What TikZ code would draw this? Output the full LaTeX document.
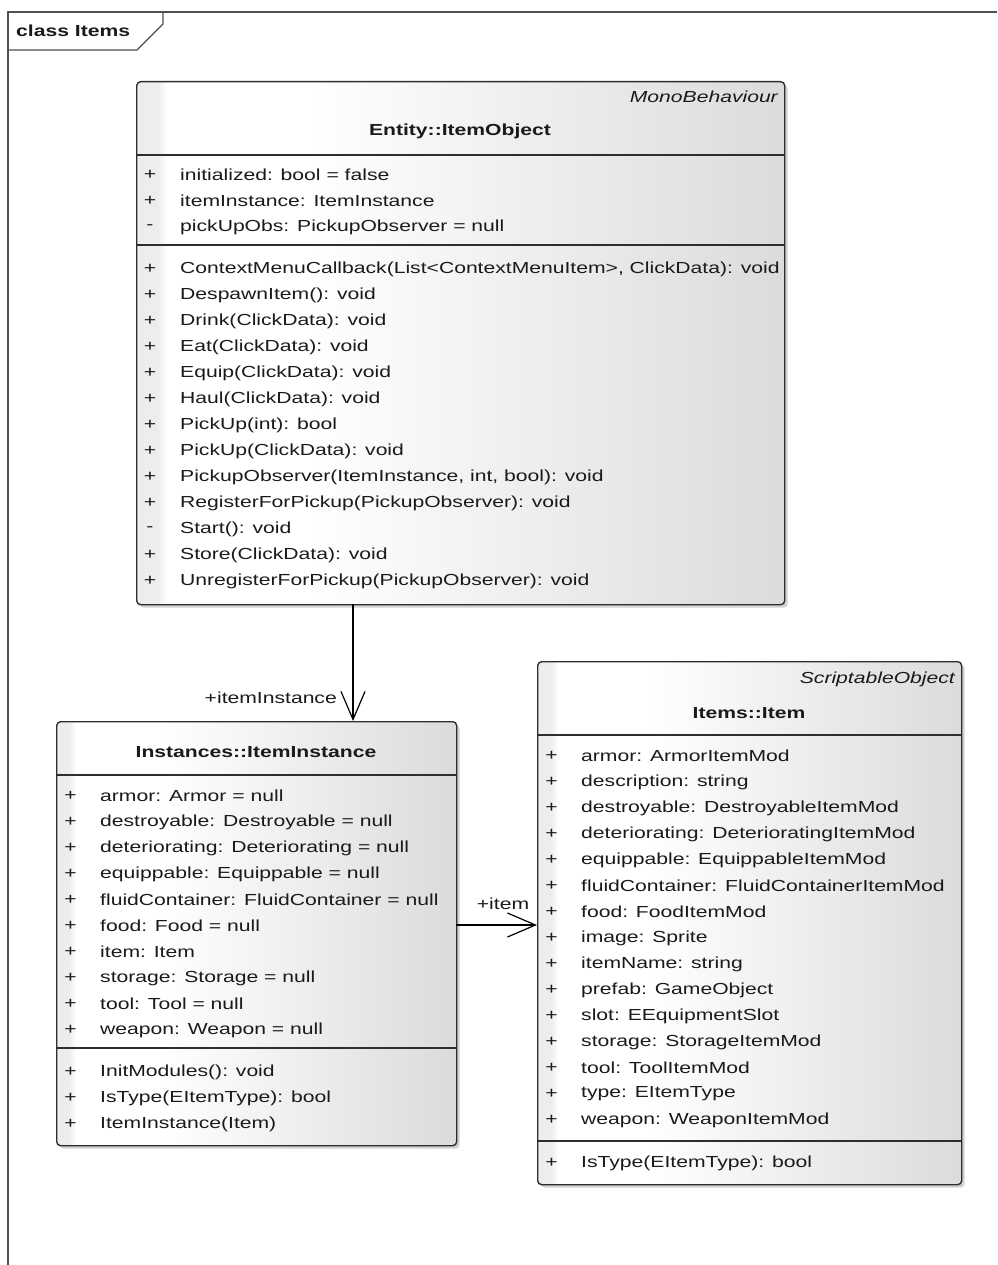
\documentclass[tikz,border=0pt]{standalone}
\usepackage{fontspec}
\setmainfont{Liberation Sans}[FakeStretch=1.32]
\usetikzlibrary{arrows.meta,shadows}
\definecolor{frameline}{HTML}{505050}
\definecolor{boxline}{HTML}{2E2E2E}
\definecolor{textmain}{HTML}{1A1A1A}
\pgfdeclarehorizontalshading{classfill}{100bp}{color(0bp)=(black!7); color(26.6bp)=(black!7); color(27.4bp)=(white); color(38bp)=(white); color(75bp)=(black!14); color(100bp)=(black!14)}

\begin{document}
\begin{tikzpicture}[x=1pt,y=-1pt,
    font=\fontsize{16}{19}\selectfont,
    frame/.style={draw=frameline, line width=1.4pt},
    classbox/.style={draw=boxline, line width=1.4pt, rounded corners=4pt,
                 shading=classfill, anchor=north west, inner sep=0pt,
                 drop shadow={shadow xshift=3pt, shadow yshift=-3pt, opacity=.35}},
    sepline/.style={draw=boxline, line width=1.4pt},
    cname/.style={font=\fontsize{16}{19}\selectfont\bfseries, text=textmain, inner sep=0pt},
    stereo/.style={font=\fontsize{16}{19}\selectfont\itshape, text=textmain, anchor=east, inner sep=0pt},
    vis/.style={text=textmain, inner sep=0pt},
    member/.style={text=textmain, anchor=west, inner sep=0pt},
    rolelbl/.style={text=textmain, inner sep=0pt},
    assoc/.style={draw=black, line width=1.2pt,
                 -{Straight Barb[length=28pt,width=24pt,line width=1.2pt]}},
  ]
  \useasboundingbox (0,0) rectangle (997,1265);

  % diagram frame
  \draw[frame] (8,1265) -- (8,12) -- (997,12);
  \draw[frame] (8,50) -- (137,50) -- (163,24) -- (163,12);
  \node[cname, anchor=west] (ttl) at (16,31) {class Items};

  % Entity::ItemObject
  \node[classbox, minimum width=648, minimum height=523] (itemobj) at (136,81) {};
  \node[stereo] (itemobj-st) at (778,97) {MonoBehaviour};
  \node[cname] (itemobj-nm) at (460,131) {Entity::ItemObject};
  \draw[sepline] (itemobj.west |- 0,155) -- (itemobj.east |- 0,155);
  \draw[sepline] (itemobj.west |- 0,245) -- (itemobj.east |- 0,245);
  \foreach \v/\t [count=\i from 0] in {+/{initialized: bool = false},
      +/{itemInstance: ItemInstance}, -/{pickUpObs: PickupObserver = null}} {
    \node[vis] (itemobj-av\i) at (150,175+26*\i) {\v};
    \node[member] (itemobj-a\i) at (180,175+26*\i) {\t};
  }
  \foreach \v/\t [count=\i from 0] in {
      +/{ContextMenuCallback(List<ContextMenuItem>, ClickData): void},
      +/{DespawnItem(): void}, +/{Drink(ClickData): void},
      +/{Eat(ClickData): void}, +/{Equip(ClickData): void},
      +/{Haul(ClickData): void}, +/{PickUp(int): bool},
      +/{PickUp(ClickData): void},
      +/{PickupObserver(ItemInstance, int, bool): void},
      +/{RegisterForPickup(PickupObserver): void}, -/{Start(): void},
      +/{Store(ClickData): void},
      +/{UnregisterForPickup(PickupObserver): void}} {
    \node[vis] (itemobj-mv\i) at (150,269+26*\i) {\v};
    \node[member] (itemobj-m\i) at (180,269+26*\i) {\t};
  }

  % Instances::ItemInstance
  \node[classbox, minimum width=400, minimum height=424] (inst) at (56,721) {};
  \node[cname] (inst-nm) at (256,752) {Instances::ItemInstance};
  \draw[sepline] (inst.west |- 0,775) -- (inst.east |- 0,775);
  \draw[sepline] (inst.west |- 0,1048) -- (inst.east |- 0,1048);
  \foreach \t [count=\i from 0] in {{armor: Armor = null},
      {destroyable: Destroyable = null}, {deteriorating: Deteriorating = null},
      {equippable: Equippable = null}, {fluidContainer: FluidContainer = null},
      {food: Food = null}, {item: Item}, {storage: Storage = null},
      {tool: Tool = null}, {weapon: Weapon = null}} {
    \node[vis] (inst-av\i) at (70.5,796+26*\i) {+};
    \node[member] (inst-a\i) at (100,796+26*\i) {\t};
  }
  \foreach \t [count=\i from 0] in {{InitModules(): void},
      {IsType(EItemType): bool}, {ItemInstance(Item)}} {
    \node[vis] (inst-mv\i) at (70.5,1072+26*\i) {+};
    \node[member] (inst-m\i) at (100,1072+26*\i) {\t};
  }

  % Items::Item
  \node[classbox, minimum width=424, minimum height=523] (item) at (537,661) {};
  \node[stereo] (item-st) at (955,679) {ScriptableObject};
  \node[cname] (item-nm) at (749,713) {Items::Item};
  \draw[sepline] (item.west |- 0,735) -- (item.east |- 0,735);
  \draw[sepline] (item.west |- 0,1141) -- (item.east |- 0,1141);
  \foreach \t [count=\i from 0] in {{armor: ArmorItemMod},
      {description: string}, {destroyable: DestroyableItemMod},
      {deteriorating: DeterioratingItemMod}, {equippable: EquippableItemMod},
      {fluidContainer: FluidContainerItemMod}, {food: FoodItemMod},
      {image: Sprite}, {itemName: string}, {prefab: GameObject},
      {slot: EEquipmentSlot}, {storage: StorageItemMod},
      {tool: ToolItemMod}, {type: EItemType}, {weapon: WeaponItemMod}} {
    \node[vis] (item-av\i) at (551.5,756+26*\i) {+};
    \node[member] (item-a\i) at (581,756+26*\i) {\t};
  }
  \node[vis] (item-mv0) at (551.5,1163) {+};
  \node[member] (item-m0) at (581,1163) {IsType(EItemType): bool};

  % associations
  \coordinate (obj-out) at (353,604);
  \draw[assoc] (obj-out) -- (obj-out |- inst.north);
  \node[rolelbl, anchor=east] (lbl-inst) at (337,698) {+itemInstance};
  \coordinate (inst-out) at (456,925);
  \draw[assoc] (inst-out) -- (inst-out -| item.west);
  \node[rolelbl] (lbl-item) at (503,904) {+item};
\end{tikzpicture}
\end{document}
